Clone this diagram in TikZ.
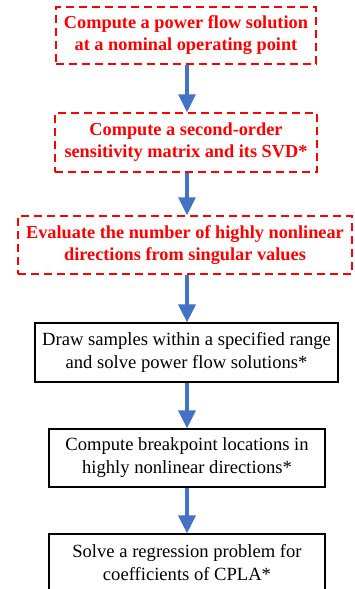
\documentclass[tikz,border=0pt]{standalone}
\usepackage{fontspec}
\setmainfont{Liberation Serif}
\usetikzlibrary{arrows.meta}
\definecolor{flowblue}{HTML}{4472C4}
\tikzset{
  redbox/.style={draw=red, line width=1.5pt, dash pattern=on 8pt off 5pt, text=red,
    font=\fontsize{18.3}{22}\selectfont\bfseries, align=center, inner sep=0pt},
  blackbox/.style={draw=black, line width=1.2pt, text=black,
    font=\fontsize{18.6}{23}\selectfont, align=center, inner sep=0pt},
  flow/.style={draw=flowblue, line width=3.3pt, -{Triangle[length=18pt,width=17pt]}}
}
\begin{document}
\begin{tikzpicture}[x=1pt,y=-1pt]
\useasboundingbox (0,0) rectangle (354,589);
\clip (0,0) rectangle (354,589);
\node[redbox, minimum width=260pt, minimum height=57pt] (n1) at (186,35.5)
  {Compute a power flow solution\\at a nominal operating point};
\node[redbox, minimum width=262pt, minimum height=59pt] (n2) at (186,142.5)
  {Compute a second-order\\sensitivity matrix and its SVD*};
\node[redbox, minimum width=334pt, minimum height=58pt] (n3) at (185,245)
  {Evaluate the number of highly nonlinear\\directions from singular values};
\node[blackbox, minimum width=303pt, minimum height=59pt] (n4) at (186.5,352.5)
  {Draw samples within a specified range\\and solve power flow solutions*};
\node[blackbox, minimum width=276pt, minimum height=58pt] (n5) at (187,458)
  {Compute breakpoint locations in\\highly nonlinear directions*};
\node[blackbox, minimum width=276pt, minimum height=58pt] (n6) at (187,563)
  {Solve a regression problem for\\coefficients of CPLA*};
\draw[flow] (n1.south -| 187,0) -- (n2.north -| 187,0);
\draw[flow] (n2.south -| 187,0) -- (n3.north -| 187,0);
\draw[flow] (n3.south -| 187,0) -- (n4.north -| 187,0);
\draw[flow] (n4.south -| 187,0) -- (n5.north -| 187,0);
\draw[flow] (n5.south -| 187,0) -- (n6.north -| 187,0);
\end{tikzpicture}
\end{document}
